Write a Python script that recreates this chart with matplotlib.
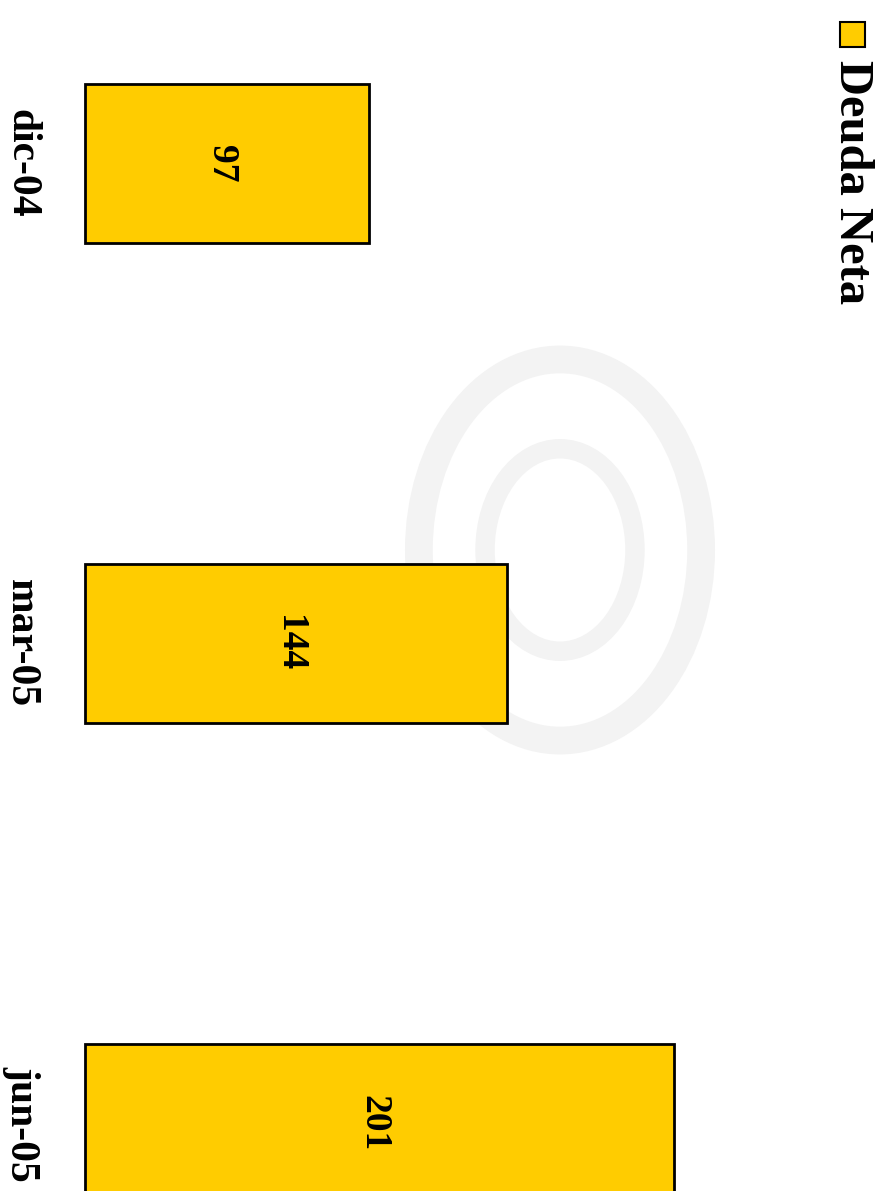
import matplotlib.pyplot as plt
from matplotlib.patches import Rectangle, Circle

categories = ["dic-04", "mar-05", "jun-05"]
values = [97, 144, 201]
series_name = "Deuda Neta"

bar_color = "#FFCC00"
serif = ["Liberation Serif", "DejaVu Serif"]

fig = plt.figure(figsize=(8.82, 11.91), dpi=100)
ax = fig.add_axes([0, 0, 1, 1])
ax.set_axis_off()

# faint watermark rings in the background
wm = "#F3F3F3"
ax.add_patch(Circle((560 / 882, 1 - 550 / 1191), 0.16, transform=ax.transAxes,
                    fill=False, lw=20, ec=wm, zorder=0))
ax.add_patch(Circle((560 / 882, 1 - 550 / 1191), 0.085, transform=ax.transAxes,
                    fill=False, lw=14, ec=wm, zorder=0))

y = list(range(len(categories)))
ax.barh(y, values, height=0.331, color=bar_color, edgecolor="black", linewidth=2, zorder=2)

ax.set_xlim(-85 / 2.93, 797 / 2.93)
ax.set_ylim(2.1406, -0.3406)

for i, (c, v) in enumerate(zip(categories, values)):
    # value label at bar centre, nudged left ~6 px to match the reference
    ax.text(v / 2 - 6 / 2.93, i, str(v), rotation=-90, ha="center", va="center",
            fontsize=27, fontweight="bold", family=serif, zorder=3)
    ax.text(21 / 882, i, c, transform=ax.get_yaxis_transform(), rotation=-90,
            ha="center", va="center", fontsize=30, fontweight="bold", family=serif)

# legend drawn by hand, rotated like the rest of the chart
fig.patches.append(Rectangle((840 / 882, 1 - 47 / 1191), 25 / 882, 25 / 1191,
                             transform=fig.transFigure, facecolor=bar_color,
                             edgecolor="black", linewidth=1.5))
fig.text(852 / 882, 1 - 182 / 1191, series_name, rotation=-90, ha="center", va="center",
         fontsize=35, fontweight="bold", family=serif)

fig.savefig("out.png", dpi=100)
